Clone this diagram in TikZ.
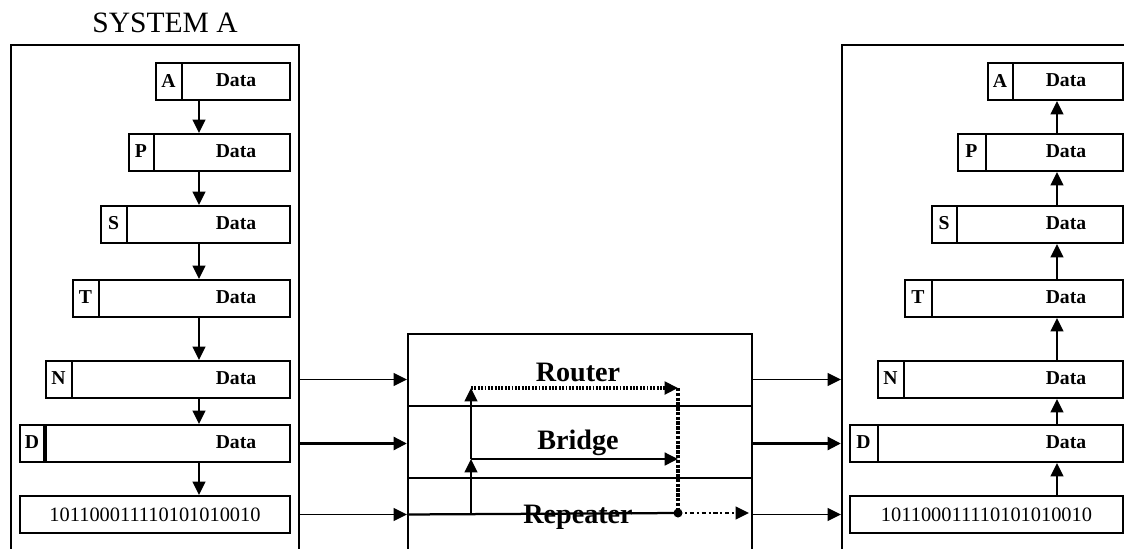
\documentclass[tikz,border=0pt]{standalone}
\usepackage{fontspec}
\setmainfont{Liberation Serif}
\usetikzlibrary{arrows.meta,positioning,calc}

\tikzset{
  pkt/.style={draw, line width=1.4pt, minimum height=0.925cm, inner sep=0pt, anchor=north west},
  sysbox/.style={draw, line width=1.4pt, inner sep=0pt, anchor=north west},
  hdr/.style={font=\fontsize{14}{15}\selectfont\bfseries, inner sep=0pt},
  lbl/.style={font=\fontsize{14}{15}\selectfont\bfseries, inner sep=0pt},
  bitstr/.style={font=\fontsize{14.5}{15}\selectfont, inner sep=0pt},
  layer/.style={font=\fontsize{20}{22}\selectfont\bfseries, inner sep=0pt},
  flow/.style={line width=1.4pt, -{Triangle[length=9.5pt,width=9pt]}},
}

\begin{document}
\begin{tikzpicture}[x=0.025cm, y=-0.025cm]
  \useasboundingbox (0,0) rectangle (1124,548);
  \clip (0,0) rectangle (1124,548);

  % the two systems and the device between them
  \node[font=\fontsize{21}{24}\selectfont] (title) at (165,23) {SYSTEM A};
  \node[sysbox, minimum width=7.2cm, minimum height=13.15cm] (sysA) at (10,44) {};
  \node[sysbox, minimum width=7.5cm, minimum height=13.15cm] (sysB) at (841,44) {};
  \node[sysbox, minimum width=8.6cm, minimum height=5.925cm] (dev) at (407,333) {};

  % layer stack, sending side
  \foreach \n/\xl/\xs/\yt in {A/155/182/62, P/128/154/133, S/100/127/205,
                              T/72/99/279, N/45/72/360, D/19/45/424}{
    \node[pkt, minimum width={(289-\xl)*0.025cm}] (L\n) at (\xl,\yt) {};
    \draw[line width=1.4pt] (\xs,\yt) -- (\xs,\yt+37);
    \node[hdr] (Lh\n) at ({(\xl+\xs)/2},\yt+18.5) {\n};
    \node[lbl] (Ld\n) at (236,\yt+18.5) {Data};
  }
  \draw[line width=2.4pt] (45,424) -- (45,461);
  \node[pkt, minimum width=6.75cm] (Lbits) at (19,495) {};
  \node[bitstr] (Lbt) at (Lbits.center) {101100011110101010010};

  % layer stack, receiving side
  \foreach \n/\xl/\xs/\yt in {A/987/1013/62, P/957/986/133, S/931/957/205,
                              T/904/932/279, N/877/904/360, D/849/878/424}{
    \node[pkt, minimum width={(1122-\xl)*0.025cm}] (R\n) at (\xl,\yt) {};
    \draw[line width=1.4pt] (\xs,\yt) -- (\xs,\yt+37);
    \node[hdr] (Rh\n) at ({(\xl+\xs)/2},\yt+18.5) {\n};
    \node[lbl] (Rd\n) at (1066,\yt+18.5) {Data};
  }
  \node[pkt, minimum width=6.825cm] (Rbits) at (849,495) {};
  \node[bitstr] (Rbt) at (Rbits.center) {101100011110101010010};

  % down and up the stacks
  \coordinate (lx) at (199,0);
  \coordinate (rx) at (1057,0);
  \foreach \a/\b in {A/P, P/S, S/T, T/N, N/D, D/bits}{
    \draw[flow] (L\a.south -| lx) -- (L\b.north -| lx);
    \draw[flow] (R\b.north -| rx) -- (R\a.south -| rx);
  }

  % device layers
  \coordinate (s1) at (0,406);
  \coordinate (s2) at (0,478);
  \draw[line width=1.2pt] (dev.west |- s1) -- (dev.east |- s1);
  \draw[line width=1.2pt] (dev.west |- s2) -- (dev.east |- s2);

  % into and out of the device
  \draw[flow] (LN -| sysA.east) -- (LN -| dev.west);
  \draw[flow, line width=2.4pt] (LD -| sysA.east) -- (LD -| dev.west);
  \draw[flow] (Lbits -| sysA.east) -- (Lbits -| dev.west);
  \draw[flow] (RN -| dev.east) -- (RN -| sysB.west);
  \draw[flow, line width=2.4pt] (RD -| dev.east) -- (RD -| sysB.west);
  \draw[flow] (Rbits -| dev.east) -- (Rbits -| sysB.west);

  % paths through the device
  \coordinate (up) at (471,513);
  \coordinate (br) at (471,459);
  \coordinate (upt) at (471,388);
  \coordinate (rt) at (678,388);
  \coordinate (bre) at (678,459);
  \coordinate (dn) at (678,513);
  \coordinate (ex) at (749,513);
  \draw[line width=1.6pt] (Lbits -| dev.west) -- (dn);
  \draw[flow] (up) -- (br);
  \draw[flow] (br) -- (upt);
  \draw[flow, line width=1.8pt] (br) -- (bre);
  \draw[flow, densely dotted, line width=2.2pt] (upt) -- (rt);
  \draw[line width=2.4pt, densely dotted] (rt) -- (dn);
  \fill (dn) circle[radius=4.5];
  \draw[flow, dash dot, line width=1.6pt] (dn) -- (ex);

  \node[layer] (router) at (578,372) {Router};
  \node[layer] (bridge) at (578,443) {Bridge};
  \node[layer] (repeater) at (578,517) {Repeater};
\end{tikzpicture}
\end{document}
